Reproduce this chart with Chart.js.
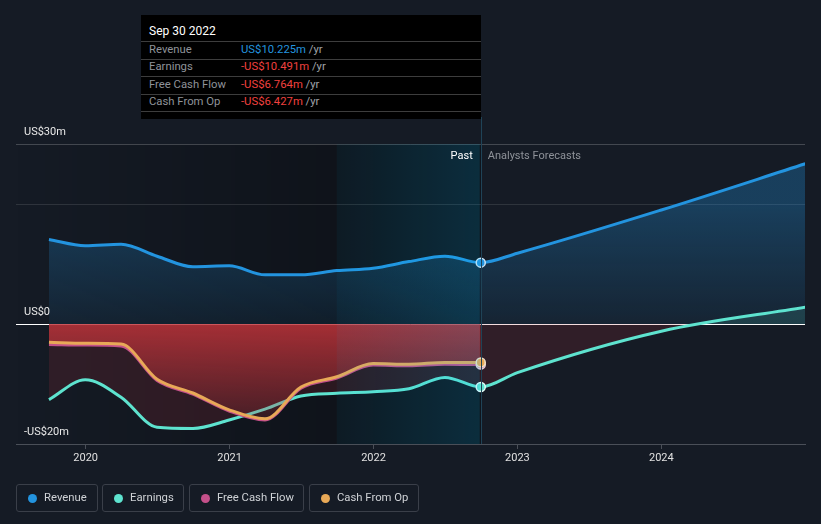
<!DOCTYPE html>
<html>
<head>
<meta charset="utf-8">
<script src="https://cdn.jsdelivr.net/npm/chart.js@4.4.1/dist/chart.umd.min.js"></script>
<style>
  html, body { margin: 0; padding: 0; background: #151b25; }
  body { width: 821px; height: 524px; position: relative; overflow: hidden; font-family: Roboto, "Open Sans", sans-serif; }
  #wrap { position: absolute; left: 0; top: 0; width: 821px; height: 524px; }
  #tip { position: absolute; left: 141px; top: 15px; width: 340px; height: 104px; background: #000; box-sizing: border-box; }
  #tip .title { position: absolute; left: 8px; top: 9px; font-size: 12px; color: #fff; font-weight: 400; }
  #tip .sep { position: absolute; left: 0; right: 0; height: 1px; background: #3d3d3d; }
  #tip .row { position: absolute; left: 8px; font-size: 11.3px; color: #8f9399; white-space: nowrap; }
  #tip .val { position: absolute; left: 92px; white-space: nowrap; }
  #tip .unit { color: #a0a4aa; }
  .legend { position: absolute; top: 484px; height: 28px; box-sizing: border-box; border: 1px solid #3a3f49; border-radius: 3px; font-size: 11.3px; color: #cfd2d6; }
  .legend .dot { position: absolute; left: 11px; top: 9px; width: 9px; height: 9px; border-radius: 50%; }
  .legend .txt { position: absolute; left: 27px; top: 6px; white-space: nowrap; }
</style>
</head>
<body>
<div id="wrap"><canvas id="c" width="821" height="524"></canvas></div>
<div id="tip"></div>
<div id="legend"></div>
<script>
// ---- data (US$ millions, dates as decimal years: quarter ends) ----
const pastDates      = [2019.745, 2019.997, 2020.246, 2020.496, 2020.745, 2020.997, 2021.246, 2021.496, 2021.745, 2021.997, 2022.246, 2022.496, 2022.745];
const revenuePast    = [14.1, 13.05, 13.3, 11.3, 9.55, 9.7, 8.2, 8.2, 8.9, 9.3, 10.4, 11.3, 10.225];
const earningsPast   = [-12.6, -9.3, -12.2, -17.2, -17.4, -16.0, -14.2, -12.0, -11.55, -11.3, -10.8, -8.9, -10.491];
const fcfPast        = [-3.4, -3.5, -3.65, -9.4, -11.7, -14.5, -16.0, -10.7, -9.0, -6.85, -6.95, -6.7, -6.764];
const cfoPast        = [-3.05, -3.2, -3.35, -9.2, -11.5, -14.3, -15.8, -10.5, -8.8, -6.6, -6.7, -6.4, -6.427];
const forecastDates  = [2023.0, 2024.0, 2025.0];
const revenueFcst    = [11.8, 19.0, 26.7];
const earningsFcst   = [-8.1, -1.2, 2.8];

const xTickValues = [2020, 2021, 2022, 2023, 2024];
const xTickLabels = ['2020', '2021', '2022', '2023', '2024'];
const yLabelValues = [30, 0, -20];
const yLabelTexts  = ['US$30m', 'US$0', '-US$20m'];
const pastStart = 2021.745, pastEnd = 2022.745;

const seriesNames  = ['Revenue', 'Earnings', 'Free Cash Flow', 'Cash From Op'];
const seriesColors = ['#2394df', '#5ee3cf', '#c4508a', '#e8a957'];
const tipDate = 'Sep 30 2022';
const tipValues = ['US$10.225m', '-US$10.491m', '-US$6.764m', '-US$6.427m'];
const tipColors = ['#2394df', '#f0413f', '#f0413f', '#f0413f'];

// ---- build points ----
const pts = (xs, ys) => xs.map((x, i) => ({ x: x, y: ys[i] }));
const revenuePts  = pts(pastDates, revenuePast).concat(pts(forecastDates, revenueFcst));
const earningsPts = pts(pastDates, earningsPast).concat(pts(forecastDates, earningsFcst));
const fcfPts = pts(pastDates, fcfPast);
const cfoPts = pts(pastDates, cfoPast);
const lastPast = pastDates.length - 1;

function vGrad(ctx, area, scales, stops) {
  if (!area) return 'transparent';
  const y = scales.y;
  const g = ctx.createLinearGradient(0, area.top, 0, area.bottom);
  stops.forEach(s => {
    const p = (y.getPixelForValue(s[0]) - area.top) / (area.bottom - area.top);
    g.addColorStop(Math.min(1, Math.max(0, p)), s[1]);
  });
  return g;
}
const dotRadius = c => c.dataIndex === lastPast ? 4.5 : 0;

const bgPlugin = {
  id: 'bgShade',
  beforeDraw(chart) {
    const { ctx, chartArea: a, scales: { x } } = chart;
    const xs = x.getPixelForValue(pastStart), xe = x.getPixelForValue(pastEnd);
    ctx.save();
    const g = ctx.createLinearGradient(a.left, 0, xs, 0);
    g.addColorStop(0, 'rgba(0,0,0,0)');
    g.addColorStop(1, 'rgba(0,0,0,0.28)');
    ctx.fillStyle = g;
    ctx.fillRect(a.left, a.top, xs - a.left, a.bottom - a.top);
    ctx.fillStyle = 'rgba(0,0,0,0.33)';
    ctx.fillRect(xs, a.top, xe - xs, a.bottom - a.top);
    ctx.restore();
  },
  afterDatasetsDraw(chart) {
    const { ctx, chartArea: a, scales: { x, y } } = chart;
    const xs = x.getPixelForValue(pastStart), xe = x.getPixelForValue(pastEnd);
    ctx.save();
    const g = ctx.createLinearGradient(xs, 0, xe, 0);
    g.addColorStop(0, 'rgba(0,190,255,0.05)');
    g.addColorStop(1, 'rgba(0,190,255,0.16)');
    ctx.fillStyle = g;
    ctx.fillRect(xs, a.top, xe - xs - 1, a.bottom - a.top);
    // divider line
    ctx.strokeStyle = '#1f4357';
    ctx.lineWidth = 1;
    ctx.beginPath();
    ctx.moveTo(Math.round(xe) + 0.5, 117);
    ctx.lineTo(Math.round(xe) + 0.5, a.bottom);
    ctx.stroke();
    // labels
    ctx.font = '11px Roboto, sans-serif';
    ctx.textBaseline = 'middle';
    ctx.textAlign = 'right';
    ctx.fillStyle = '#ffffff';
    ctx.fillText('Past', xe - 8, a.top + 12);
    ctx.textAlign = 'left';
    ctx.fillStyle = '#8e9299';
    ctx.fillText('Analysts Forecasts', xe + 7, a.top + 12);
    // y labels
    ctx.fillStyle = '#e8e8e8';
    yLabelValues.forEach((v, i) => {
      ctx.fillText(yLabelTexts[i], a.left + 8, y.getPixelForValue(v) - 12);
    });
    ctx.restore();
  }
};

const ctx = document.getElementById('c').getContext('2d');
new Chart(ctx, {
  type: 'line',
  data: {
    datasets: [
      {
        label: seriesNames[0], data: revenuePts, order: 4,
        borderColor: seriesColors[0], borderWidth: 3,
        pointRadius: dotRadius, pointBackgroundColor: seriesColors[0], pointBorderColor: '#cfe6f7', pointBorderWidth: 1.5,
        cubicInterpolationMode: 'monotone',
        fill: { target: 'origin', above: c => vGrad(c.chart.ctx, c.chart.chartArea, c.chart.scales, [[20, 'rgba(35,148,223,0.30)'], [0, 'rgba(35,148,223,0.08)']]) }
      },
      {
        label: seriesNames[1], data: earningsPts, order: 3,
        borderColor: seriesColors[1], borderWidth: 3,
        pointRadius: dotRadius, pointBackgroundColor: seriesColors[1], pointBorderColor: '#e6fbf7', pointBorderWidth: 1.5,
        cubicInterpolationMode: 'monotone',
        fill: { target: 'origin', above: 'rgba(94,227,207,0.14)', below: 'rgba(185,45,60,0.17)' }
      },
      {
        label: seriesNames[2], data: fcfPts, order: 2,
        borderColor: seriesColors[2], borderWidth: 3,
        pointRadius: dotRadius, pointBackgroundColor: seriesColors[2], pointBorderColor: '#e8d0dc', pointBorderWidth: 1.5,
        cubicInterpolationMode: 'monotone',
        fill: false
      },
      {
        label: seriesNames[3], data: cfoPts, order: 1,
        borderColor: seriesColors[3], borderWidth: 3,
        pointRadius: dotRadius, pointBackgroundColor: seriesColors[3], pointBorderColor: '#f3e1c6', pointBorderWidth: 1.5,
        cubicInterpolationMode: 'monotone',
        fill: { target: 'origin', below: c => vGrad(c.chart.ctx, c.chart.chartArea, c.chart.scales, [[0, 'rgba(195,52,58,0.80)'], [-20, 'rgba(195,52,58,0.02)']]) }
      }
    ]
  },
  options: {
    responsive: false,
    animation: false,
    events: [],
    layout: { padding: { top: 144, left: 16, right: 16, bottom: 50 } },
    plugins: {
      legend: { display: false },
      tooltip: { enabled: false },
      filler: { drawTime: 'beforeDatasetDraw' }
    },
    scales: {
      x: {
        type: 'linear', min: 2019.516, max: 2024.998,
        afterBuildTicks: s => { s.ticks = xTickValues.map(v => ({ value: v })); },
        afterFit: s => { s.height = 30; },
        ticks: { color: '#e0e0e0', font: { family: 'Roboto', size: 11 }, padding: 3, maxRotation: 0,
                 callback: v => xTickLabels[xTickValues.indexOf(v)] },
        grid: { drawOnChartArea: false, drawTicks: true, tickLength: 5, color: '#4a4f58' },
        border: { display: true, color: '#4a4f58', width: 1 }
      },
      y: {
        type: 'linear', min: -20, max: 30,
        afterFit: s => { s.width = 0; },
        ticks: { display: false, stepSize: 10 },
        grid: {
          drawTicks: false,
          color: c => c.tick.value === 30 ? 'rgba(255,255,255,0.2)' : c.tick.value === 20 ? 'rgba(255,255,255,0.11)' : c.tick.value === 0 ? '#ffffff' : 'rgba(0,0,0,0)',
          lineWidth: 1
        },
        border: { display: false }
      }
    }
  },
  plugins: [bgPlugin]
});

// ---- tooltip box ----
const tip = document.getElementById('tip');
let html = '<div class="title">' + tipDate + '</div>';
const sepTops = [26, 43.5, 61, 78.5, 96];
sepTops.forEach(t => { html += '<div class="sep" style="top:' + t + 'px"></div>'; });
seriesNames.forEach((n, i) => {
  const top = 25.5 + i * 17.5;
  html += '<div class="row" style="top:' + top + 'px;height:17px;line-height:17px;width:330px">' + n +
          '<span class="val"><span style="color:' + tipColors[i] + '">' + tipValues[i] + '</span> <span class="unit">/yr</span></span></div>';
});
tip.innerHTML = html;

// ---- legend ----
const legendLefts = [16, 102, 189, 309];
const legendWidths = [82, 82, 115, 110];
const lg = document.getElementById('legend');
seriesNames.forEach((n, i) => {
  const d = document.createElement('div');
  d.className = 'legend';
  d.style.left = legendLefts[i] + 'px';
  d.style.width = legendWidths[i] + 'px';
  d.innerHTML = '<span class="dot" style="background:' + seriesColors[i] + '"></span><span class="txt">' + n + '</span>';
  lg.appendChild(d);
});
</script>
</body>
</html>
